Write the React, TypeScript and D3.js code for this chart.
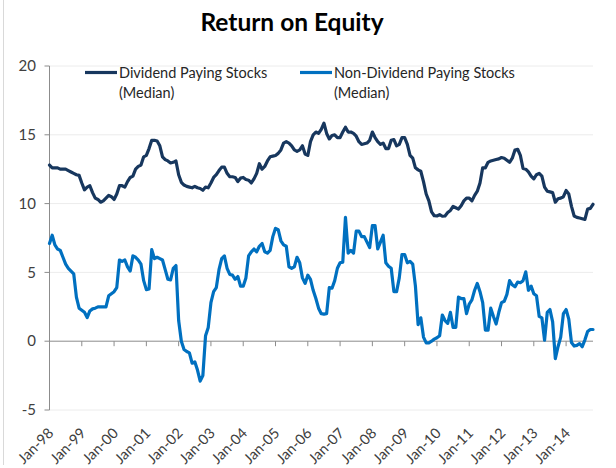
import React from "react";
import * as d3 from "d3";

const W = 616;
const H = 468;

const title = "Return on Equity";
const seriesNames = ["Dividend Paying Stocks", "Non-Dividend Paying Stocks"];
const seriesSub = "(Median)";

// Monthly, Jan-98 ... Nov-14
const dividend = [
  12.8, 12.6, 12.6, 12.6, 12.5, 12.5, 12.5, 12.4, 12.3, 12.2, 12.1, 12.05,
  11.5, 11.0, 11.2, 11.3, 10.8, 10.4, 10.3, 10.1, 10.2, 10.4, 10.6, 10.5,
  10.3, 10.7, 11.3, 11.3, 11.2, 11.6, 11.9, 12.0, 12.5, 12.7, 12.8, 13.4,
  13.5, 14.0, 14.6, 14.6, 14.55, 14.2, 13.4, 13.2, 13.1, 12.95, 13.0, 13.1,
  12.1, 11.55, 11.35, 11.25, 11.2, 11.15, 11.25, 11.15, 11.1, 10.97, 11.2, 11.15,
  11.5, 11.9, 12.1, 12.4, 12.65, 12.65, 12.2, 11.95, 11.95, 11.9, 11.6, 11.85,
  11.9, 11.75, 11.7, 11.5, 11.8, 12.2, 12.9, 12.5, 12.7, 13.1, 13.4, 13.45,
  13.5, 13.65, 13.9, 14.4, 14.5, 14.4, 14.2, 13.9, 13.8, 13.9, 14.2, 13.6,
  13.5, 14.5, 15.0, 15.2, 15.1, 15.4, 15.85, 15.1, 14.7, 14.95, 15.0, 14.8,
  14.8, 15.2, 15.55, 15.2, 15.2, 15.1, 14.9, 14.5, 14.3, 14.35, 14.4, 14.6,
  15.2, 14.8, 14.5, 14.3, 14.4, 14.0, 14.0, 14.6, 14.65, 14.2, 14.3, 14.8,
  14.8, 14.3, 13.5, 13.3, 12.6, 12.45, 12.35, 11.6, 10.7, 10.2, 9.4, 9.12,
  9.1, 9.2, 9.08, 9.1, 9.35, 9.5, 9.8, 9.7, 9.6, 9.85, 10.2, 10.4,
  10.4, 10.2, 10.6, 10.9, 11.5, 12.6, 12.6, 13.0, 13.1, 13.15, 13.2, 13.25,
  13.35, 13.3, 13.15, 13.0, 13.3, 13.9, 13.95, 13.5, 12.55, 12.5, 12.3, 12.0,
  11.8, 12.1, 12.2, 12.0, 11.2, 10.9, 10.85, 10.8, 10.1, 10.35, 10.4, 10.5,
  10.95, 10.7, 9.8, 9.1, 9.0, 8.95, 8.9, 8.85, 9.6, 9.65, 9.95,
];

const nonDividend = [
  7.1, 7.7, 7.0, 6.7, 6.6, 6.1, 5.6, 5.3, 5.1, 4.9, 3.2, 2.4,
  2.25, 2.1, 1.72, 2.2, 2.35, 2.4, 2.5, 2.5, 2.5, 2.5, 3.3, 3.45,
  3.6, 3.9, 5.9, 5.8, 5.9, 5.4, 5.1, 6.2, 6.1, 5.9, 5.6, 4.4,
  3.75, 3.8, 6.65, 6.0, 6.1, 6.0, 5.9, 5.2, 4.5, 4.45, 5.3, 5.5,
  1.5, 0.0, -0.6, -0.75, -0.85, -1.6, -1.5, -2.1, -2.9, -2.5, 0.4, 1.0,
  2.8, 3.6, 3.9, 5.2, 6.0, 6.2, 5.3, 4.85, 4.8, 4.5, 4.7, 4.0,
  4.0, 4.6, 6.2, 6.5, 6.7, 6.5, 6.9, 7.1, 6.5, 6.4, 6.6, 7.6,
  8.2, 8.1, 7.3, 7.0, 6.9, 5.4, 5.3, 5.4, 6.1, 5.7, 4.6, 4.2,
  4.8, 4.5, 3.7, 3.1, 2.4, 2.0, 1.97, 2.0, 3.9, 3.85, 4.4, 5.3,
  5.7, 5.75, 9.0, 6.4, 6.6, 6.4, 8.0, 8.0, 7.6, 7.6, 7.2, 6.8,
  8.4, 8.4, 6.7, 7.2, 7.7, 5.7, 5.45, 5.3, 3.6, 3.6, 4.6, 6.3,
  6.3, 5.7, 5.8, 5.6, 4.0, 1.2, 1.7, 0.3, -0.12, -0.12, 0.0, 0.15,
  0.25, 0.4, 1.9, 1.5, 1.3, 2.1, 1.0, 1.0, 3.2, 3.1, 3.1, 2.0,
  2.7, 3.0, 3.7, 4.2, 3.6, 2.8, 0.8, 0.8, 2.4, 1.8, 1.25, 2.1,
  2.8, 2.9, 3.4, 4.4, 4.1, 3.95, 4.3, 4.25, 4.4, 5.04, 3.7, 4.0,
  3.45, 3.3, 1.8, 1.7, 0.07, 2.1, 2.3, 1.4, -1.26, -0.4, 0.3, 2.0,
  2.3, 1.6, -0.1, -0.35, -0.3, -0.17, -0.4, 0.1, 0.7, 0.85, 0.85,
];

const xTickLabels = [
  "Jan-98", "Jan-99", "Jan-00", "Jan-01", "Jan-02", "Jan-03", "Jan-04", "Jan-05",
  "Jan-06", "Jan-07", "Jan-08", "Jan-09", "Jan-10", "Jan-11", "Jan-12", "Jan-13", "Jan-14",
];
const yTicks = [-5, 0, 5, 10, 15, 20];

const DARK = "#17375E";
const LIGHT = "#0070C0";
const FONT = "Lato, 'Open Sans', sans-serif";

export default function App() {
  const left = 49.5;
  const right = 593;
  const x = d3.scaleLinear().domain([0, dividend.length - 1]).range([left, right]);
  const y = d3.scaleLinear().domain([-5, 20]).range([410, 66]);

  const line = d3
    .line<number>()
    .x((_, i) => x(i))
    .y((d) => y(d));

  const y0 = y(0);

  return (
    <svg
      width={W}
      height={H}
      style={{ position: "absolute", left: 0, top: 0, background: "#fff" }}
      fontFamily={FONT}
    >
      <rect x={0} y={0} width={W} height={H} fill="#fff" />
      <line x1={3.5} x2={3.5} y1={0} y2={465} stroke="#d9d9d9" />

      {/* title */}
      <text x={292} y={31} textAnchor="middle" fontSize={24.5} fontWeight={700} fill="#000">
        {title}
      </text>

      {/* gridlines */}
      {yTicks
        .filter((t) => t !== 0)
        .map((t) => (
          <line key={"g" + t} x1={left} x2={right} y1={y(t)} y2={y(t)} stroke="#ececec" strokeWidth={1} />
        ))}

      {/* y axis */}
      <line x1={left} x2={left} y1={y(20)} y2={y(-5)} stroke="#8c8c8c" />
      {yTicks.map((t) => (
        <g key={"yt" + t}>
          <line x1={left - 5} x2={left} y1={y(t)} y2={y(t)} stroke="#8c8c8c" />
          <text x={36} y={y(t)} dy="0.35em" textAnchor="end" fontSize={15} fill="#404040">
            {t}
          </text>
        </g>
      ))}

      {/* x axis at zero */}
      <line x1={left} x2={right} y1={y0} y2={y0} stroke="#8c8c8c" />
      {xTickLabels.map((lab, k) => {
        const xi = x(k * 12);
        return (
          <g key={lab}>
            <line x1={xi} x2={xi} y1={y0} y2={y0 + 5} stroke="#8c8c8c" />
            <text
              transform={`translate(${xi + 5},${434}) rotate(-45)`}
              textAnchor="end"
              fontSize={14.5}
              fill="#404040"
            >
              {lab}
            </text>
          </g>
        );
      })}

      {/* series */}
      <path d={line(dividend) || ""} fill="none" stroke={DARK} strokeWidth={3.2} strokeLinejoin="round" strokeLinecap="round" />
      <path d={line(nonDividend) || ""} fill="none" stroke={LIGHT} strokeWidth={3.2} strokeLinejoin="round" strokeLinecap="round" />

      {/* legend */}
      <g fontSize={14.5} fill="#262626">
        <line x1={85} x2={117} y1={72.5} y2={72.5} stroke={DARK} strokeWidth={3.2} />
        <text x={119} y={78}>{seriesNames[0]}</text>
        <text x={119} y={98}>{seriesSub}</text>
        <line x1={300} x2={332} y1={72.5} y2={72.5} stroke={LIGHT} strokeWidth={3.2} />
        <text x={334} y={78}>{seriesNames[1]}</text>
        <text x={334} y={98}>{seriesSub}</text>
      </g>
    </svg>
  );
}
